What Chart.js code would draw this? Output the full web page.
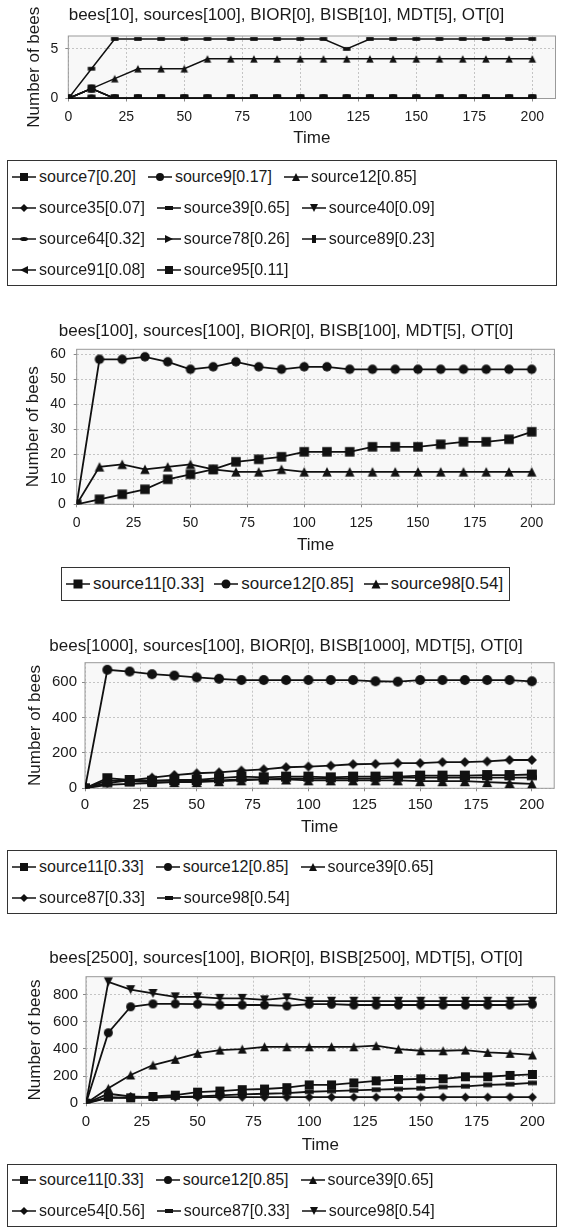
<!DOCTYPE html>
<html>
<head>
<meta charset="utf-8">
<title>Bees per source over time</title>
<script src="https://cdn.jsdelivr.net/npm/chart.js@4.4.1/dist/chart.umd.min.js"></script>
<style>
  html, body { margin: 0; padding: 0; background: #fff; }
  body { position: relative; width: 561px; height: 1228px; overflow: hidden;
         font-family: 'Liberation Sans', Arial, sans-serif; color: #1a1a1a; }
  canvas.chart { position: absolute; left: 0; }
  .legend { position: absolute; box-sizing: border-box; border: 1px solid #333;
            display: flex; flex-wrap: wrap; align-content: flex-start; background: #fff; }
  .legend .item { display: flex; align-items: center; white-space: nowrap; }
  .legend canvas { margin-right: 3px; }
</style>
</head>
<body>
<script>
// ---- data ----
const timeSteps = [0, 10, 20, 30, 40, 50, 60, 70, 80, 90, 100, 110, 120, 130, 140, 150, 160, 170, 180, 190, 200];
const xTickValues = [0, 25, 50, 75, 100, 125, 150, 175, 200];

// panel 1: bees[10]
const p1Title = 'bees[10], sources[100], BIOR[0], BISB[10], MDT[5], OT[0]';
const p1Names = ['source7[0.20]', 'source9[0.17]', 'source12[0.85]', 'source35[0.07]', 'source39[0.65]',
                 'source40[0.09]', 'source64[0.32]', 'source78[0.26]', 'source89[0.23]', 'source91[0.08]', 'source95[0.11]'];
const p1Source7  = [0, 1, 0, 0, 0, 0, 0, 0, 0, 0, 0, 0, 0, 0, 0, 0, 0, 0, 0, 0, 0];
const p1Source9  = [0, 1, 0, 0, 0, 0, 0, 0, 0, 0, 0, 0, 0, 0, 0, 0, 0, 0, 0, 0, 0];
const p1Source12 = [0, 1, 2, 3, 3, 3, 4, 4, 4, 4, 4, 4, 4, 4, 4, 4, 4, 4, 4, 4, 4];
const p1Source35 = [0, 0, 0, 0, 0, 0, 0, 0, 0, 0, 0, 0, 0, 0, 0, 0, 0, 0, 0, 0, 0];
const p1Source39 = [0, 3, 6, 6, 6, 6, 6, 6, 6, 6, 6, 6, 5, 6, 6, 6, 6, 6, 6, 6, 6];
const p1Source40 = [0, 1, 0, 0, 0, 0, 0, 0, 0, 0, 0, 0, 0, 0, 0, 0, 0, 0, 0, 0, 0];
const p1Source64 = [0, 0, 0, 0, 0, 0, 0, 0, 0, 0, 0, 0, 0, 0, 0, 0, 0, 0, 0, 0, 0];
const p1Source78 = [0, 0, 0, 0, 0, 0, 0, 0, 0, 0, 0, 0, 0, 0, 0, 0, 0, 0, 0, 0, 0];
const p1Source89 = [0, 0, 0, 0, 0, 0, 0, 0, 0, 0, 0, 0, 0, 0, 0, 0, 0, 0, 0, 0, 0];
const p1Source91 = [0, 0, 0, 0, 0, 0, 0, 0, 0, 0, 0, 0, 0, 0, 0, 0, 0, 0, 0, 0, 0];
const p1Source95 = [0, 0, 0, 0, 0, 0, 0, 0, 0, 0, 0, 0, 0, 0, 0, 0, 0, 0, 0, 0, 0];
const p1YTicks = [0, 5];
const p1YMax = 6.3;

// panel 2: bees[100]
const p2Title = 'bees[100], sources[100], BIOR[0], BISB[100], MDT[5], OT[0]';
const p2Names = ['source11[0.33]', 'source12[0.85]', 'source98[0.54]'];
const p2Source11 = [0, 2, 4, 6, 10, 12, 14, 17, 18, 19, 21, 21, 21, 23, 23, 23, 24, 25, 25, 26, 29];
const p2Source12 = [0, 58, 58, 59, 57, 54, 55, 57, 55, 54, 55, 55, 54, 54, 54, 54, 54, 54, 54, 54, 54];
const p2Source98 = [0, 15, 16, 14, 15, 16, 14, 13, 13, 14, 13, 13, 13, 13, 13, 13, 13, 13, 13, 13, 13];
const p2YTicks = [0, 10, 20, 30, 40, 50, 60];
const p2YMax = 62;

// panel 3: bees[1000]
const p3Title = 'bees[1000], sources[100], BIOR[0], BISB[1000], MDT[5], OT[0]';
const p3Names = ['source11[0.33]', 'source12[0.85]', 'source39[0.65]', 'source87[0.33]', 'source98[0.54]'];
const p3Source11 = [0, 57, 47, 43, 47, 47, 57, 66, 62, 66, 66, 62, 66, 66, 66, 72, 72, 72, 75, 75, 78];
const p3Source12 = [0, 670, 660, 645, 637, 627, 619, 612, 612, 612, 612, 612, 612, 605, 603, 612, 612, 612, 612, 612, 605];
const p3Source39 = [0, 45, 40, 35, 35, 35, 40, 45, 50, 50, 45, 45, 45, 45, 45, 40, 40, 40, 35, 30, 25];
const p3Source87 = [0, 30, 45, 60, 75, 85, 90, 100, 107, 119, 123, 128, 136, 138, 142, 142, 148, 148, 152, 160, 160];
const p3Source98 = [0, 20, 25, 30, 35, 40, 45, 50, 50, 55, 55, 55, 55, 55, 60, 60, 60, 60, 60, 60, 60];
const p3YTicks = [0, 200, 400, 600];
const p3YMax = 710;

// panel 4: bees[2500]
const p4Title = 'bees[2500], sources[100], BIOR[0], BISB[2500], MDT[5], OT[0]';
const p4Names = ['source11[0.33]', 'source12[0.85]', 'source39[0.65]', 'source54[0.56]', 'source87[0.33]', 'source98[0.54]'];
const p4Source11 = [0, 45, 40, 50, 60, 82, 90, 100, 105, 115, 135, 135, 150, 165, 175, 180, 180, 195, 195, 205, 212];
const p4Source12 = [0, 518, 709, 730, 730, 728, 722, 722, 722, 715, 728, 728, 722, 722, 722, 722, 722, 722, 722, 722, 728];
const p4Source39 = [0, 110, 208, 281, 323, 367, 391, 398, 415, 415, 415, 415, 415, 423, 398, 386, 386, 391, 374, 367, 355];
const p4Source54 = [0, 70, 50, 45, 45, 45, 45, 45, 45, 45, 45, 45, 45, 45, 45, 45, 45, 45, 45, 45, 45];
const p4Source87 = [0, 40, 40, 40, 45, 50, 58, 65, 70, 75, 85, 90, 95, 100, 105, 110, 120, 125, 135, 140, 150];
const p4Source98 = [0, 892, 835, 807, 782, 782, 771, 771, 760, 775, 750, 750, 750, 750, 750, 750, 750, 750, 750, 750, 750];
const p4YTicks = [0, 200, 400, 600, 800];
const p4YMax = 930;

// ---- drawing ----
const FONT = "'Liberation Sans', Arial, sans-serif";
const INK = '#111';
// JFreeChart's default series shape cycle
const SHAPES = ['square', 'circle', 'triUp', 'diamond', 'hRect', 'triDown', 'hEllipse', 'triRight', 'vRect', 'triLeft'];

function shapePath(ctx, shape, cx, cy, s) {
    const d = s / 2;
    ctx.beginPath();
    switch (shape) {
        case 'square': ctx.rect(cx - d, cy - d, s, s); break;
        case 'circle': ctx.arc(cx, cy, d, 0, Math.PI * 2); break;
        case 'triUp': ctx.moveTo(cx, cy - d); ctx.lineTo(cx + d, cy + d); ctx.lineTo(cx - d, cy + d); break;
        case 'diamond': ctx.moveTo(cx, cy - d); ctx.lineTo(cx + d, cy); ctx.lineTo(cx, cy + d); ctx.lineTo(cx - d, cy); break;
        case 'hRect': ctx.rect(cx - d, cy - d / 2, s, d); break;
        case 'triDown': ctx.moveTo(cx - d, cy - d); ctx.lineTo(cx + d, cy - d); ctx.lineTo(cx, cy + d); break;
        case 'hEllipse': ctx.ellipse(cx, cy, d, d / 2, 0, 0, Math.PI * 2); break;
        case 'triRight': ctx.moveTo(cx - d, cy - d); ctx.lineTo(cx + d, cy); ctx.lineTo(cx - d, cy + d); break;
        case 'vRect': ctx.rect(cx - d / 2, cy - d, d, s); break;
        case 'triLeft': ctx.moveTo(cx - d, cy); ctx.lineTo(cx + d, cy - d); ctx.lineTo(cx + d, cy + d); break;
    }
    ctx.closePath();
    ctx.fillStyle = INK;
    ctx.fill();
}

function markerCanvas(shape, s) {
    const n = Math.ceil(s) + 2;
    const c = document.createElement('canvas');
    c.width = n; c.height = n;
    shapePath(c.getContext('2d'), shape, n / 2, n / 2, s);
    return c;
}

function legendIcon(shape, s) {
    const c = document.createElement('canvas');
    c.width = 24; c.height = 14;
    const ctx = c.getContext('2d');
    ctx.strokeStyle = INK; ctx.lineWidth = 1.5;
    ctx.beginPath(); ctx.moveTo(0, 7); ctx.lineTo(24, 7); ctx.stroke();
    shapePath(ctx, shape, 12, 7, s);
    return c;
}

// plot background + frame, like the JFreeChart plot area
const plotFrame = {
    id: 'plotFrame',
    beforeDraw(chart) {
        const a = chart.chartArea, ctx = chart.ctx;
        ctx.save(); ctx.fillStyle = '#f8f8f8';
        ctx.fillRect(a.left, a.top, a.right - a.left, a.bottom - a.top);
        ctx.restore();
    },
    beforeDatasetsDraw(chart) {
        const a = chart.chartArea, ctx = chart.ctx;
        ctx.save(); ctx.strokeStyle = '#9a9a9a'; ctx.lineWidth = 1;
        ctx.strokeRect(a.left, a.top, a.right - a.left, a.bottom - a.top);
        ctx.restore();
    }
};

const PAD_LEFT = 17;

function buildPanel(p) {
    const L = p.layout;
    const H = Math.round(L.timeY + 14 - L.top);
    const canvas = document.createElement('canvas');
    canvas.className = 'chart';
    canvas.width = 561; canvas.height = H;
    canvas.style.top = L.top + 'px';
    document.body.appendChild(canvas);

    const titlePadTop = L.titleY - L.top - 10.2;
    const datasets = p.values.map((vals, i) => ({
        label: p.names[i],
        data: timeSteps.map((t, k) => ({ x: t, y: vals[k] })),
        borderColor: INK,
        backgroundColor: INK,
        borderWidth: L.lw,
        pointStyle: markerCanvas(SHAPES[i % SHAPES.length], L.mark),
        pointRadius: L.mark / 2,
        tension: 0
    }));

    const tickFont = { family: FONT, size: L.tickFont };
    new Chart(canvas, {
        type: 'line',
        data: { datasets: datasets },
        options: {
            responsive: false,
            animation: false,
            devicePixelRatio: 1,
            events: [],
            layout: { padding: { left: PAD_LEFT, right: 561 - L.plotRight, top: 0, bottom: H - (L.timeY - L.top + 10.2) } },
            plugins: {
                legend: { display: false },
                tooltip: { enabled: false },
                title: {
                    display: true,
                    text: p.title,
                    color: '#1a1a1a',
                    font: { family: FONT, size: 17, weight: 'normal' },
                    padding: { top: titlePadTop, bottom: (L.plotTop - L.top) - titlePadTop - 20.4 }
                }
            },
            scales: {
                x: {
                    type: 'linear',
                    min: 0,
                    max: 210,
                    afterBuildTicks: sc => { sc.ticks = xTickValues.map(v => ({ value: v })); },
                    afterFit: sc => { sc.height = (L.timeY + 10.2) - L.plotBottom; },
                    ticks: { font: tickFont, color: '#1a1a1a', maxRotation: 0,
                             padding: L.tickY - L.plotBottom - 3 - L.tickFont * 0.6 },
                    grid: { color: '#c4c4c4', tickColor: '#888', tickLength: 3 },
                    border: { display: false, dash: [2, 2] },
                    title: { display: true, text: 'Time', color: '#1a1a1a',
                             font: { family: FONT, size: 17 }, padding: { top: 0, bottom: 0 } }
                },
                y: {
                    type: 'linear',
                    min: 0,
                    max: p.yMax,
                    afterBuildTicks: sc => { sc.ticks = p.yTicks.map(v => ({ value: v })); },
                    afterFit: sc => { sc.width = L.plotLeft - PAD_LEFT; },
                    ticks: { font: tickFont, color: '#1a1a1a', padding: L.yTickPad },
                    grid: { color: '#c4c4c4', tickColor: '#888', tickLength: 3 },
                    border: { display: false, dash: [2, 2] },
                    title: { display: true, text: 'Number of bees', color: '#1a1a1a',
                             font: { family: FONT, size: 17 },
                             padding: { top: L.yTitleX - PAD_LEFT - 10.2, bottom: 0 } }
                }
            }
        },
        plugins: [plotFrame]
    });

    // HTML legend box under the chart
    const G = p.legendBox;
    const box = document.createElement('div');
    box.className = 'legend';
    Object.assign(box.style, {
        left: G.left + 'px', top: G.top + 'px', width: G.width + 'px', height: G.height + 'px',
        paddingLeft: G.padL + 'px', columnGap: G.gap + 'px'
    });
    p.names.forEach((name, i) => {
        const item = document.createElement('div');
        item.className = 'item';
        item.style.height = G.rowH + 'px';
        item.appendChild(legendIcon(SHAPES[i % SHAPES.length], G.mark));
        const span = document.createElement('span');
        span.textContent = name;
        span.style.fontSize = G.font + 'px';
        item.appendChild(span);
        box.appendChild(item);
    });
    document.body.appendChild(box);
}

const panels = [
    {
        title: p1Title, names: p1Names, yTicks: p1YTicks, yMax: p1YMax,
        values: [p1Source7, p1Source9, p1Source12, p1Source35, p1Source39, p1Source40,
                 p1Source64, p1Source78, p1Source89, p1Source91, p1Source95],
        layout: { top: 0, titleY: 15, plotTop: 36, plotBottom: 98.5, plotLeft: 68.3, plotRight: 556,
                  tickY: 117, timeY: 138.5, yTitleX: 34, tickFont: 14, yTickPad: 7, mark: 7.5, lw: 1.5 },
        legendBox: { left: 7, top: 160, width: 550, height: 126, rowH: 31, font: 16, padL: 4, gap: 12, mark: 8 }
    },
    {
        title: p2Title, names: p2Names, yTicks: p2YTicks, yMax: p2YMax,
        values: [p2Source11, p2Source12, p2Source98],
        layout: { top: 310, titleY: 331, plotTop: 349.3, plotBottom: 504.3, plotLeft: 76.7, plotRight: 555,
                  tickY: 523, timeY: 545, yTitleX: 33, tickFont: 14, yTickPad: 8, mark: 9.5, lw: 1.8 },
        legendBox: { left: 61, top: 567, width: 449, height: 34, rowH: 32, font: 17, padL: 4, gap: 10, mark: 9 }
    },
    {
        title: p3Title, names: p3Names, yTicks: p3YTicks, yMax: p3YMax,
        values: [p3Source11, p3Source12, p3Source39, p3Source87, p3Source98],
        layout: { top: 628, titleY: 646, plotTop: 662.7, plotBottom: 788.3, plotLeft: 85, plotRight: 555,
                  tickY: 805, timeY: 827, yTitleX: 35, tickFont: 15, yTickPad: 5, mark: 10, lw: 1.8 },
        legendBox: { left: 7, top: 850, width: 550, height: 64, rowH: 31, font: 16, padL: 4, gap: 12, mark: 8 }
    },
    {
        title: p4Title, names: p4Names, yTicks: p4YTicks, yMax: p4YMax,
        values: [p4Source11, p4Source12, p4Source39, p4Source54, p4Source87, p4Source98],
        layout: { top: 940, titleY: 958, plotTop: 976.7, plotBottom: 1103.3, plotLeft: 86, plotRight: 555,
                  tickY: 1122, timeY: 1145, yTitleX: 35, tickFont: 15, yTickPad: 5, mark: 9, lw: 1.8 },
        legendBox: { left: 7, top: 1164, width: 550, height: 63, rowH: 30.5, font: 16, padL: 4, gap: 12, mark: 8 }
    }
];

panels.forEach(buildPanel);
</script>
</body>
</html>
